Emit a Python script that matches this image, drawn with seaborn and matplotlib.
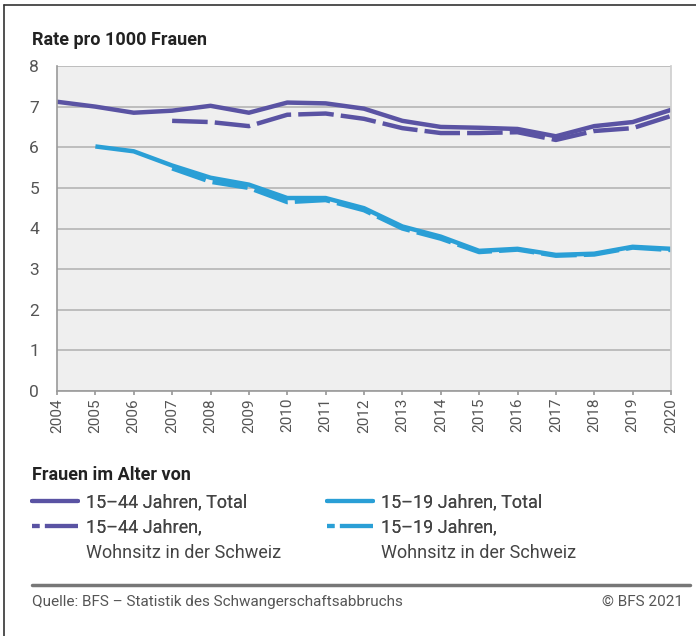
import numpy as np
import pandas as pd
import matplotlib
matplotlib.use("Agg")
import matplotlib.pyplot as plt
from matplotlib.lines import Line2D
import seaborn as sns

years = list(range(2004, 2021))
total_15_44 = [7.12, 7.00, 6.85, 6.90, 7.02, 6.85, 7.10, 7.08, 6.95, 6.65, 6.50, 6.48, 6.45, 6.27, 6.52, 6.62, 6.92]
ch_15_44 = [None, None, None, 6.65, 6.62, 6.52, 6.80, 6.83, 6.70, 6.47, 6.35, 6.35, 6.37, 6.18, 6.40, 6.47, 6.77]
total_15_19 = [None, 6.02, 5.90, 5.55, 5.25, 5.08, 4.75, 4.75, 4.50, 4.05, 3.80, 3.45, 3.50, 3.35, 3.38, 3.55, 3.50]
ch_15_19 = [None, None, None, 5.48, 5.15, 5.00, 4.65, 4.70, 4.45, 4.00, 3.75, 3.42, 3.48, 3.33, 3.36, 3.53, 3.47]

labels = ["15\u201344 Jahren, Total", "15\u201344 Jahren,",
          "15\u201319 Jahren, Total", "15\u201319 Jahren,"]
label_cont = [None, "Wohnsitz in der Schweiz", None, "Wohnsitz in der Schweiz"]
series = [total_15_44, ch_15_44, total_15_19, ch_15_19]

PURPLE = "#5a53a3"
CYAN = "#2a9fd6"
colors = [PURPLE, PURPLE, CYAN, CYAN]
dashed = [False, True, False, True]

sns.set_theme(style="white")
plt.rcParams['font.family'] = ['Roboto', 'DejaVu Sans']

W, H = 696, 636
fig = plt.figure(figsize=(W/100, H/100), dpi=100)
ax = fig.add_axes([57/W, 1-391/H, (671-57)/W, (391-66)/H])
ax.set_facecolor("#efefef")

for vals, c, d in zip(series, colors, dashed):
    df = pd.DataFrame({"year": years, "value": vals}).dropna()
    sns.lineplot(data=df, x="year", y="value", ax=ax, color=c, lw=3.2, legend=False)
    ln = ax.lines[-1]
    if d:
        ln.set_dashes((8, 1.6))
    ln.set_solid_capstyle("butt")

ax.set_xlim(2004, 2020)
ax.set_ylim(0, 8)
ax.set_yticks(range(0, 9))
ax.set_xticks(years)
ax.set_xticklabels([str(y) for y in years], rotation=90, fontsize=11, color="#555555")
ax.set_yticklabels([str(i) for i in range(9)], fontsize=12.5, color="#555555")
ax.grid(axis="y", color="#b5b5b5", lw=1.2)
ax.set_axisbelow(True)
ax.set_xlabel("")
ax.set_ylabel("")
for s in ["left", "bottom"]:
    ax.spines[s].set_color("#9a9a9a")
    ax.spines[s].set_linewidth(1.2)
ax.spines["right"].set_color("#cfcfcf")
ax.spines["top"].set_visible(False)
ax.tick_params(axis="x", length=3, color="#9a9a9a", pad=2, bottom=True)
ax.tick_params(axis="y", length=0, pad=13)

fig.text(32/W, 1-40/H, "Rate pro 1000 Frauen", fontsize=13, fontweight="bold", color="#222222", va="center")

# legend
fig.text(32/W, 1-475/H, "Frauen im Alter von", fontsize=13, fontweight="bold", color="#222222", va="center")

def handle(c, d):
    h = Line2D([], [], color=c, lw=3)
    if d:
        h.set_dashes((1.8, 1.3, 9, 0))
    return h

legs = []
for col, x0 in enumerate([32, 327]):
    idx = [2*col, 2*col + 1]
    hs = [handle(colors[i], dashed[i]) for i in idx]
    ls = [labels[i] for i in idx]
    leg = fig.legend(hs, ls, loc="upper left", bbox_to_anchor=(x0/W, 1-493/H),
                     frameon=False, fontsize=13, handlelength=2.55, handletextpad=0.45,
                     labelspacing=0.42, borderpad=0, borderaxespad=0, labelcolor="#444444")
    fig.add_artist(leg)
    legs.append((leg, idx))

fig.canvas.draw()
for leg, idx in legs:
    for t, i in zip(leg.get_texts(), idx):
        if label_cont[i]:
            bb = t.get_window_extent()
            fig.text(bb.x0/W, (bb.y0 + bb.y1)/2/H - 25/H, label_cont[i], fontsize=13,
                     color="#444444", va="center", ha="left")

# separator
fig.add_artist(Line2D([32/W, 690/W], [1-585/H, 1-585/H], color="#777777", lw=2.5))
fig.text(32/W, 1-602/H, "Quelle: BFS \u2013 Statistik des Schwangerschaftsabbruchs", fontsize=11, color="#555555", va="center")
fig.text(683/W, 1-602/H, "\u00a9 BFS 2021", fontsize=11, color="#555555", va="center", ha="right")

# outer frame (left and top)
fig.add_artist(Line2D([4/W, 4/W], [0, 1-5/H], color="#333333", lw=1.2))
fig.add_artist(Line2D([4/W, 1], [1-5/H, 1-5/H], color="#333333", lw=1.2))

fig.savefig("out.png", dpi=100)
